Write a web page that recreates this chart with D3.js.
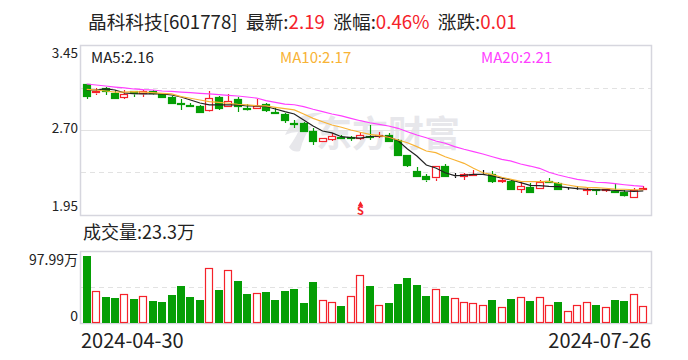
<!DOCTYPE html>
<html>
<head>
<meta charset="utf-8">
<script src="https://d3js.org/d3.v7.min.js"></script>
<style>
    html, body { margin: 0; padding: 0; background: #fff; }
    svg { display: block; }
    text { font-family: "Noto Sans CJK SC", "Noto Sans", sans-serif; }
</style>
</head>
<body>
<script>
    // candle values, oldest first
    const opens = [3.11,3.03,3.07,3.03,2.99,3.04,3.02,3.04,3.02,2.99,2.94,2.92,2.91,2.87,2.99,2.92,2.97,2.89,2.89,2.93,
        2.86,2.84,2.76,2.76,2.69,2.60,2.62,2.64,2.64,2.63,2.65,2.65,2.66,2.61,2.48,2.34,2.29,2.28,2.38,2.29,
        2.29,2.30,2.31,2.31,2.25,2.25,2.18,2.20,2.19,2.25,2.23,2.18,2.18,2.17,2.18,2.17,2.16,2.15,2.11,2.18];
    const closes = [3.00,3.04,3.04,2.99,3.02,3.02,3.04,3.02,2.99,2.94,2.93,2.91,2.86,2.98,2.89,2.96,2.91,2.88,2.91,2.88,
        2.85,2.79,2.75,2.69,2.60,2.63,2.65,2.63,2.63,2.66,2.64,2.66,2.61,2.48,2.39,2.30,2.26,2.38,2.29,2.29,
        2.31,2.31,2.31,2.25,2.26,2.18,2.21,2.16,2.24,2.24,2.18,2.18,2.18,2.18,2.17,2.18,2.15,2.12,2.17,2.19];
    const highs = [3.11,3.07,3.08,3.05,3.05,3.04,3.05,3.05,3.03,3.00,2.97,2.94,2.92,3.04,3.00,3.02,2.99,2.93,2.97,2.94,
        2.89,2.85,2.79,2.77,2.72,2.63,2.67,2.66,2.65,2.68,2.74,2.68,2.67,2.62,2.48,2.37,2.31,2.38,2.40,2.32,
        2.32,2.35,2.35,2.34,2.28,2.26,2.25,2.23,2.26,2.28,2.24,2.20,2.21,2.19,2.18,2.18,2.23,2.17,2.19,2.21];
    const lows = [2.97,3.01,3.01,2.99,2.97,2.99,2.99,3.01,2.98,2.94,2.88,2.90,2.85,2.87,2.88,2.91,2.86,2.88,2.89,2.86,
        2.84,2.76,2.72,2.69,2.57,2.60,2.60,2.62,2.60,2.61,2.61,2.63,2.61,2.47,2.37,2.29,2.24,2.25,2.29,2.28,
        2.26,2.30,2.30,2.23,2.23,2.18,2.14,2.16,2.19,2.23,2.17,2.17,2.17,2.13,2.13,2.15,2.15,2.11,2.11,2.17];
    const ma5 = [3.053,3.053,3.062,3.053,3.027,3.020,3.018,3.018,3.018,3.009,2.991,2.965,2.938,2.921,2.921,2.921,2.921,2.912,2.912,2.907,
        2.885,2.862,2.841,2.788,2.735,2.691,2.674,2.641,2.632,2.629,2.641,2.647,2.641,2.606,2.532,2.471,2.391,2.365,2.323,2.297,
        2.300,2.309,2.309,2.294,2.276,2.259,2.235,2.212,2.209,2.203,2.200,2.191,2.182,2.177,2.171,2.171,2.168,2.162,2.159,2.162];
    const ma10 = [3.059,3.053,3.044,3.035,3.035,3.038,3.035,3.029,3.024,3.018,2.994,2.980,2.965,2.950,2.944,2.936,2.927,2.921,2.914,2.912,
        2.900,2.888,2.877,2.841,2.803,2.773,2.744,2.724,2.700,2.680,2.662,2.650,2.636,2.612,2.588,2.553,2.515,2.500,2.464,2.435,
        2.406,2.362,2.323,2.306,2.283,2.265,2.247,2.244,2.244,2.247,2.230,2.215,2.200,2.194,2.191,2.186,2.179,2.177,2.173,2.173];
    const ma20 = [3.106,3.097,3.088,3.079,3.071,3.062,3.056,3.053,3.044,3.040,3.035,3.029,3.024,3.018,3.012,3.006,3.000,2.991,2.982,2.959,
        2.944,2.929,2.923,2.906,2.883,2.862,2.841,2.824,2.803,2.782,2.764,2.750,2.735,2.715,2.685,2.656,2.632,2.603,2.583,2.553,
        2.530,2.509,2.488,2.464,2.441,2.426,2.400,2.382,2.362,2.327,2.303,2.283,2.265,2.253,2.239,2.235,2.226,2.217,2.209,2.203];
    // volume in 万 shares
    const volumes = [91.1,43.1,35.4,34.0,39.0,32.7,36.3,30.0,28.6,38.1,50.4,35.4,31.3,74.4,45.4,71.7,57.2,39.5,40.4,42.2,
        31.3,43.6,46.3,27.2,55.8,30.8,28.1,23.1,36.3,64.9,50.4,24.0,27.2,53.1,61.3,51.7,36.7,45.8,36.7,33.6,
        28.1,26.8,24.0,31.3,21.3,32.7,35.0,30.0,35.0,24.0,28.6,15.9,24.0,28.1,24.5,21.3,31.3,30.0,39.0,22.7];
    // the volume colour does not always follow the candle
    const volumeUp = [0,1,0,0,1,0,1,0,0,0,0,0,0,1,0,1,0,0,1,0,
        0,0,0,0,0,1,1,0,1,1,0,1,0,0,0,0,0,1,0,1,
        1,1,1,0,1,0,1,0,1,1,0,1,1,1,0,1,0,0,1,1];

    const priceTicks = [3.45, 2.70, 1.95];
    const dateLabels = ["2024-04-30", "2024-07-26"];
    const maLabels = ["MA5:2.16", "MA10:2.17", "MA20:2.21"];
    const signalIndex = 29;

    const width = 688, height = 360;
    const left = 81, right = 651;
    const red = "#f5222a", green = "#059e05", gridColor = "#e2e2e2", frameColor = "#d6d6de";
    const maColors = ["#222", "#f8b335", "#ff3fff"];

    const svg = d3.select("body").append("svg").attr("width", width).attr("height", height);
    const days = d3.range(closes.length);
    const x = d3.scaleBand().domain(days).range([82, 648]);
    const y = d3.scaleLinear().domain([1.95, 3.45]).range([215, 45]);
    const yVol = d3.scaleLinear().domain([0, 97.99]).range([323, 251]);
    const mid = i => Math.round(x(i) + x.bandwidth() / 2);
    const snap = v => Math.round(v) + 0.5;

    // title row
    const title = svg.append("text").attr("x", 88).attr("y", 29).attr("font-size", 18.7).attr("fill", "#222");
    [["晶科科技[601778]", "#222"], ["  最新:", "#222"], ["2.19", red], ["  涨幅:", "#222"], ["0.46%", red], ["  涨跌:", "#222"], ["0.01", red]]
        .forEach(d => title.append("tspan").attr("fill", d[1]).style("white-space", "pre").text(d[0]));

    // frames
    function frame(top, bottom) {
        svg.append("rect").attr("x", left - 0.5).attr("y", top + 0.5)
            .attr("width", right - left + 1).attr("height", bottom - top)
            .attr("fill", "none").attr("stroke", frameColor).attr("stroke-width", 1.5);
    }

    // watermark
    const mark = svg.append("g").attr("fill", "#e7e7eb");
    mark.append("path").attr("d", "M285 135 Q296 111 323 113 Q307 118 301 128 L313 125 Q304 134 300 151 Q293 153 289 147 Q296 137 298 132 Q291 132 285 135 Z");
    mark.append("text").attr("x", 316).attr("y", 147).attr("font-size", 36).attr("font-weight", 700).text("东方财富");

    // grid
    [y(3.075), y(2.325)].forEach(v => {
        svg.append("line").attr("x1", left).attr("x2", right).attr("y1", snap(v)).attr("y2", snap(v))
            .attr("stroke", gridColor).attr("stroke-width", 1).attr("stroke-dasharray", "5,4");
    });
    svg.append("line").attr("x1", left).attr("x2", right).attr("y1", snap(y(2.70))).attr("y2", snap(y(2.70)))
        .attr("stroke", gridColor).attr("stroke-width", 1);
    svg.append("line").attr("x1", left).attr("x2", right).attr("y1", snap(yVol(48.99))).attr("y2", snap(yVol(48.99)))
        .attr("stroke", gridColor).attr("stroke-width", 1).attr("stroke-dasharray", "5,4");
    frame(45, 215);
    frame(251, 323);

    // candles
    const colorOf = i => closes[i] > opens[i] ? red : closes[i] < opens[i] ? green : "#111";
    const candles = svg.append("g").selectAll("g").data(days).join("g");
    candles.append("line")
        .attr("x1", i => mid(i) + 0.5).attr("x2", i => mid(i) + 0.5)
        .attr("y1", i => Math.round(y(highs[i]))).attr("y2", i => snap(y(Math.max(opens[i], closes[i]))))
        .attr("stroke", colorOf).attr("stroke-width", 1.2);
    candles.append("line")
        .attr("x1", i => mid(i) + 0.5).attr("x2", i => mid(i) + 0.5)
        .attr("y1", i => snap(y(Math.min(opens[i], closes[i])))).attr("y2", i => Math.round(y(lows[i])))
        .attr("stroke", colorOf).attr("stroke-width", 1.2);
    candles.append("rect")
        .attr("x", i => mid(i) - 3.5)
        .attr("y", i => snap(y(Math.max(opens[i], closes[i]))))
        .attr("width", 7)
        .attr("height", i => Math.max(0, Math.round(Math.abs(y(opens[i]) - y(closes[i])))))
        .attr("fill", i => closes[i] > opens[i] ? "#fff" : colorOf(i))
        .attr("stroke", colorOf)
        .attr("stroke-width", 1.2);

    // moving averages
    const maLine = d3.line().x((d, i) => x(i) + x.bandwidth() / 2).y(d => y(d));
    [ma5, ma10, ma20].forEach((s, k) => {
        svg.append("path").attr("d", maLine(s)).attr("fill", "none")
            .attr("stroke", maColors[k]).attr("stroke-width", 1.2);
    });

    // sell signal under the candles
    svg.append("path").attr("d", d3.symbol(d3.symbolTriangle, 14))
        .attr("transform", `translate(${mid(signalIndex) + 0.5},204.5)`).attr("fill", red);
    svg.append("text").attr("x", mid(signalIndex) + 0.5).attr("y", 214.5)
        .attr("text-anchor", "middle").attr("font-size", 11).attr("font-weight", 700).attr("fill", red).text("S");

    // volume bars
    svg.append("g").selectAll("rect").data(days).join("rect")
        .attr("x", i => volumeUp[i] ? mid(i) - 3.5 : mid(i) - 4)
        .attr("y", i => volumeUp[i] ? snap(yVol(volumes[i])) : Math.round(yVol(volumes[i])))
        .attr("width", i => volumeUp[i] ? 7 : 8)
        .attr("height", i => yVol(0) - Math.round(yVol(volumes[i])) - (volumeUp[i] ? 1 : 0))
        .attr("fill", i => volumeUp[i] ? "#fff" : green)
        .attr("stroke", i => volumeUp[i] ? red : "none")
        .attr("stroke-width", 1.2);

    // axis labels
    svg.selectAll(".price").data(priceTicks).join("text").attr("class", "price")
        .attr("x", 78).attr("y", (d, i) => [58, 133, 211][i])
        .attr("text-anchor", "end").attr("font-size", 13.5).attr("fill", "#222")
        .text(d => d.toFixed(2));
    svg.append("text").attr("x", 78).attr("y", 265).attr("text-anchor", "end").attr("font-size", 14).attr("fill", "#222").text("97.99万");
    svg.append("text").attr("x", 78).attr("y", 321).attr("text-anchor", "end").attr("font-size", 14).attr("fill", "#222").text("0");
    svg.append("text").attr("x", 83).attr("y", 239).attr("font-size", 18).attr("fill", "#222").text("成交量:23.3万");

    // MA legend
    [91, 280, 481].forEach((px, k) => {
        svg.append("text").attr("x", px).attr("y", 63).attr("font-size", 15)
            .attr("fill", maColors[k]).text(maLabels[k]);
    });

    svg.append("text").attr("x", 81).attr("y", 348).attr("font-size", 20).attr("fill", "#222").text(dateLabels[0]);
    svg.append("text").attr("x", 651).attr("y", 348).attr("text-anchor", "end").attr("font-size", 20).attr("fill", "#222").text(dateLabels[1]);
</script>
</body>
</html>
